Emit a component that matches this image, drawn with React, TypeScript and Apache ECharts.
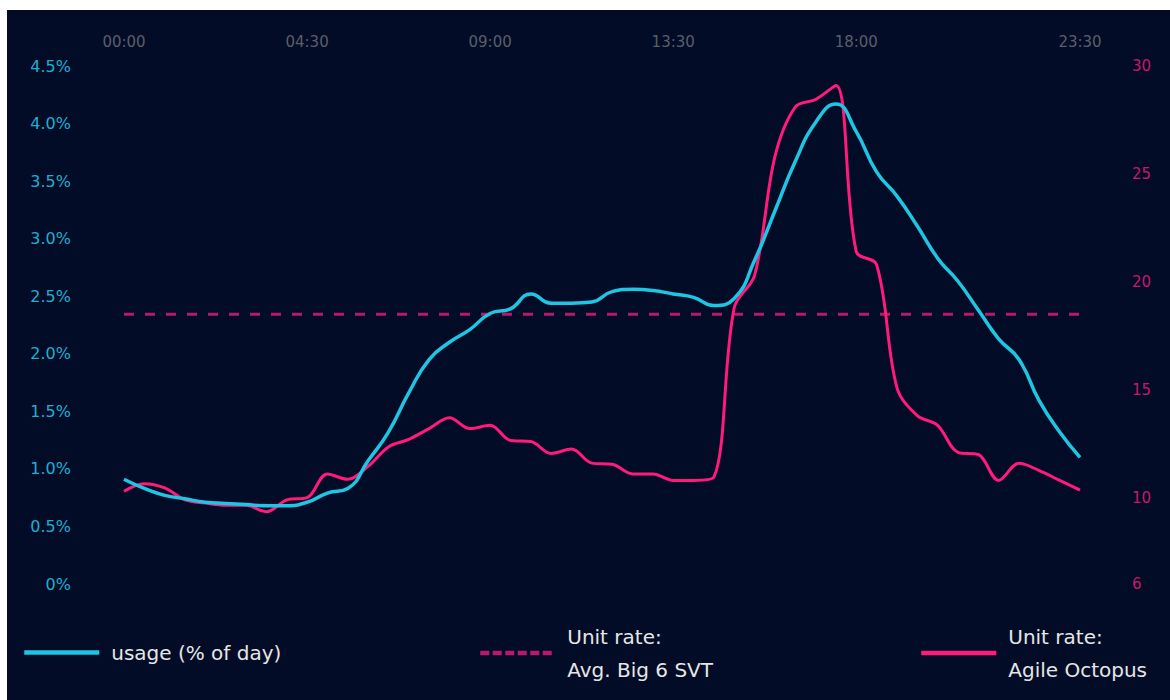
import React, { useEffect, useRef } from "react";
import * as echarts from "echarts";

const times = [
  "00:00", "00:30", "01:00", "01:30", "02:00", "02:30", "03:00", "03:30",
  "04:00", "04:30", "05:00", "05:30", "06:00", "06:30", "07:00", "07:30",
  "08:00", "08:30", "09:00", "09:30", "10:00", "10:30", "11:00", "11:30",
  "12:00", "12:30", "13:00", "13:30", "14:00", "14:30", "15:00", "15:30",
  "16:00", "16:30", "17:00", "17:30", "18:00", "18:30", "19:00", "19:30",
  "20:00", "20:30", "21:00", "21:30", "22:00", "22:30", "23:00", "23:30",
];

const usage = [
  0.91, 0.83, 0.77, 0.74, 0.71, 0.7, 0.69, 0.68, 0.68, 0.71, 0.79, 0.83,
  1.07, 1.32, 1.66, 1.95, 2.1, 2.21, 2.35, 2.39, 2.52, 2.44, 2.44, 2.45,
  2.54, 2.56, 2.55, 2.52, 2.49, 2.42, 2.48, 2.81, 3.24, 3.67, 4.01, 4.17,
  3.93, 3.58, 3.37, 3.11, 2.83, 2.63, 2.38, 2.13, 1.95, 1.59, 1.32, 1.1,
];

const agile = [
  10.3, 10.65, 10.45, 9.9, 9.75, 9.65, 9.65, 9.35, 9.9, 10.0, 11.1, 10.85,
  11.45, 12.35, 12.7, 13.2, 13.7, 13.2, 13.35, 12.65, 12.6, 12.05, 12.25, 11.6,
  11.55, 11.1, 11.1, 10.8, 10.8, 10.95, 18.8, 20.3, 25.8, 28.1, 28.45, 29.1,
  21.4, 20.8, 15.1, 13.8, 13.35, 12.1, 12.0, 10.8, 11.6, 11.25, 10.8, 10.35,
];

const svtRate = [18.5];

const rightTicks = [6, 10, 15, 20, 25, 30];

const NAME_USAGE = "usage (% of day)";
const NAME_SVT = "Unit rate:\nAvg. Big 6 SVT";
const NAME_AGILE = "Unit rate:\nAgile Octopus";

const CYAN = "#1ec6e4";
const PINK = "#ff1a7c";
const DASH = "#b8196b";
const BG = "#020c27";
const FONT = "DejaVu Sans";

export default function App() {
  const ref = useRef<HTMLDivElement>(null);

  useEffect(() => {
    if (!ref.current) return;
    const chart = echarts.init(ref.current, undefined, { renderer: "svg" });
    const legendText = {
      color: "#e6e6e6",
      fontSize: 20,
      fontFamily: FONT,
      lineHeight: 33,
      padding: [0, 0, 0, 7],
    };
    const legendBase = {
      padding: 0,
      itemWidth: 75,
      itemHeight: 14,
      textStyle: legendText,
      itemStyle: { opacity: 0, borderWidth: 0 },
    };
    chart.setOption({
      animation: false,
      backgroundColor: BG,
      grid: { left: 117, right: 90, top: 56, bottom: 116, containLabel: false },
      legend: [
        {
          ...legendBase,
          data: [NAME_USAGE],
          left: 15,
          top: 626,
          lineStyle: { width: 4.5 },
        },
        {
          ...legendBase,
          data: [NAME_SVT],
          left: 471,
          top: 610,
          lineStyle: { width: 4.5, type: [9, 3.5] },
        },
        {
          ...legendBase,
          data: [NAME_AGILE],
          left: 912,
          top: 610,
          lineStyle: { width: 4.5 },
        },
      ],
      xAxis: {
        type: "category",
        position: "top",
        boundaryGap: false,
        data: times,
        axisLine: { show: false },
        axisTick: { show: false },
        splitLine: { show: false },
        axisLabel: {
          color: "#5a5e6a",
          fontSize: 15,
          fontFamily: FONT,
          margin: 17,
          interval: (i: number) => (i % 9 === 0 && i < 45) || i === times.length - 1,
        },
      },
      yAxis: [
        {
          type: "value",
          min: 0,
          max: 4.5,
          interval: 0.5,
          axisLine: { show: false },
          axisTick: { show: false },
          splitLine: { show: false },
          axisLabel: {
            color: "#1bb0d2",
            fontSize: 16,
            fontFamily: FONT,
            margin: 53,
            formatter: (v: number) => (v === 0 ? "0%" : v.toFixed(1) + "%"),
          },
        },
        {
          type: "value",
          min: 6,
          max: 30,
          position: "right",
          axisLine: { show: false },
          axisTick: { show: false },
          splitLine: { show: false },
          axisLabel: {
            color: "#c8186c",
            fontSize: 15,
            fontFamily: FONT,
            margin: 52,
            customValues: rightTicks,
          },
        },
      ],
      series: [
        {
          name: NAME_USAGE,
          type: "line",
          yAxisIndex: 0,
          data: usage,
          symbol: "none",
          smooth: 0.5,
          lineStyle: { color: CYAN, width: 3.5 },
          itemStyle: { color: CYAN },
          z: 4,
        },
        {
          name: NAME_SVT,
          type: "line",
          yAxisIndex: 1,
          data: times.map(() => svtRate[0]),
          symbol: "none",
          lineStyle: { color: DASH, width: 3, type: [10, 11] },
          itemStyle: { color: DASH },
          z: 2,
        },
        {
          name: NAME_AGILE,
          type: "line",
          yAxisIndex: 1,
          data: agile,
          symbol: "none",
          smooth: 0.35,
          lineStyle: { color: PINK, width: 3 },
          itemStyle: { color: PINK },
          z: 3,
        },
      ],
    });
    return () => chart.dispose();
  }, []);

  return (
    <div
      ref={ref}
      style={{ position: "fixed", left: 7, top: 10, width: 1163, height: 690 }}
    />
  );
}
